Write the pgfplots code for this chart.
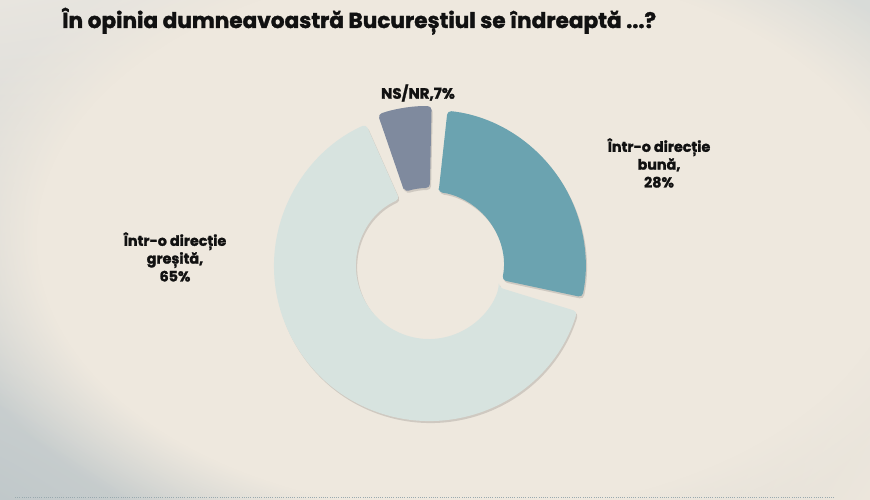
\documentclass[border=0pt]{standalone}
\usepackage{pgfplots}
\pgfplotsset{compat=1.18}
\usepackage{pgfplotstable}
\usepackage{fontspec}
\setmainfont{Poppins}[BoldFeatures={FakeBold=1.6}]
\usetikzlibrary{fadings,shadings}

\definecolor{cBuna}{HTML}{6BA3B0}
\definecolor{cGresita}{HTML}{D7E3DF}
\definecolor{cNsnr}{HTML}{7F8A9E}
\definecolor{bgBeige}{HTML}{EEE8DE}
\definecolor{bgTL}{HTML}{E8E5DF}
\definecolor{bgTR}{HTML}{D8DBD8}
\definecolor{bgBL}{HTML}{C0C8CA}
\definecolor{bgBR}{HTML}{ECE6DC}
\definecolor{txt}{HTML}{111111}
\definecolor{dotline}{HTML}{9AAAB0}

% share of answers (%), slice explosion (pt)
\pgfplotstableread{
label   pct explode
buna    28  2
gresita 65  0
nsnr    7   5
}\slices

\def\cx{429}
\def\cy{233}
\def\rin{73}
\def\rout{155}
\def\pad{2.5}

\begin{document}
\begin{tikzpicture}
\begin{axis}[x=1pt, y=1pt, xmin=0, xmax=870, ymin=0, ymax=499,
  hide axis, clip=false]
\pgfplotsextra{
  % background
  \shade[upper left=bgTL, upper right=bgTR, lower left=bgBL, lower right=bgBR]
    (axis cs:0,0) rectangle (axis cs:870,499);
  \begin{scope}
    \clip (axis cs:0,0) rectangle (axis cs:870,499);
    \fill[overlay, bgBeige, path fading=circle with fuzzy edge 20 percent]
      (axis cs:470,260) ellipse [x radius=540pt, y radius=340pt];
  \end{scope}
  \draw[dotline, line width=0.9pt, dash pattern=on 0.9pt off 1.3pt]
    (axis cs:15,2) -- (axis cs:835,2);

  % donut slices, clockwise from the top
  \pgfplotstablegetrowsof{\slices}
  \pgfmathtruncatemacro\nrows{\pgfplotsretval-1}
  \xdef\startang{86.25}
  \foreach \i in {0,...,\nrows} {
    \pgfplotstablegetelem{\i}{pct}\of\slices \let\p\pgfplotsretval
    \pgfplotstablegetelem{\i}{explode}\of\slices \let\ex\pgfplotsretval
    \pgfmathsetmacro\aE{\startang - \pad}
    \pgfmathsetmacro\aS{\startang - 3.6*\p + \pad}
    \pgfmathsetmacro\aM{\startang - 1.8*\p}
    \pgfmathsetmacro\nxt{\startang - 3.6*\p}
    \xdef\startang{\nxt}
    \edef\col{\ifcase\i cBuna\or cGresita\or cNsnr\fi}
    \begin{scope}[shift={(axis cs:\cx,\cy)}, shift={(\aM:\ex pt)}]
      \fill[black, opacity=0.13, rounded corners=4pt, shift={(1.2pt,-2pt)}]
        (\aE:\rin pt) -- (\aE:\rout pt)
        arc[start angle=\aE, end angle=\aS, radius=\rout pt]
        -- (\aS:\rin pt)
        arc[start angle=\aS, end angle=\aE, radius=\rin pt] -- cycle;
      \fill[\col, rounded corners=4pt]
        (\aE:\rin pt) -- (\aE:\rout pt)
        arc[start angle=\aE, end angle=\aS, radius=\rout pt]
        -- (\aS:\rin pt)
        arc[start angle=\aS, end angle=\aE, radius=\rin pt] -- cycle;
    \end{scope}
  }

  % texts
  \node[anchor=base west, text=txt, inner sep=0pt,
        font=\bfseries\fontsize{21.6}{26}\selectfont]
    at (axis cs:62,471) {În opinia dumneavoastră Bucureștiul se îndreaptă ...?};
  \node[text=txt, align=center, font=\bfseries\fontsize{15}{18}\selectfont]
    at (axis cs:418,406) {NS/NR,7\%};
  \node[text=txt, align=center, font=\bfseries\fontsize{14.3}{17.8}\selectfont]
    at (axis cs:659,336) {Într-o direcție\\bună,\\28\%};
  \node[text=txt, align=center, font=\bfseries\fontsize{14.3}{17.8}\selectfont]
    at (axis cs:175,242) {Într-o direcție\\greșită,\\65\%};
}
\end{axis}
\end{tikzpicture}
\end{document}
